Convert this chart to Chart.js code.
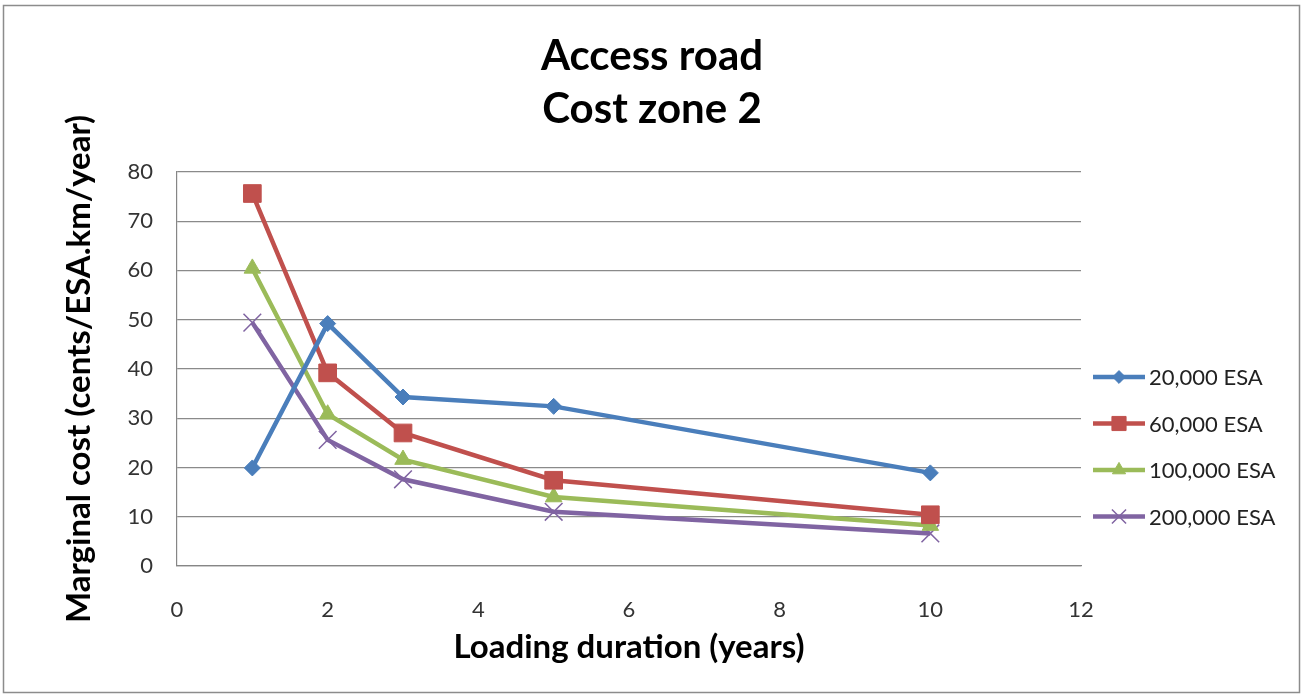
<!DOCTYPE html>
<html>
<head>
<meta charset="utf-8">
<script src="https://cdn.jsdelivr.net/npm/chart.js@4/dist/chart.umd.min.js"></script>
<style>
  html, body { margin: 0; padding: 0; background: #fff; }
  #wrap { position: relative; width: 1302px; height: 695px; }
</style>
</head>
<body>
<div id="wrap"><canvas id="c" width="1302" height="695"></canvas></div>
<script>
const titleLines = ['Access road', 'Cost zone 2'];
const xTitle = 'Loading duration (years)';
const yTitle = 'Marginal cost (cents/ESA.km/year)';
const durations = [1, 2, 3, 5, 10];
const seriesNames = ['20,000 ESA', '60,000 ESA', '100,000 ESA', '200,000 ESA'];
const esa20k  = [19.9, 49.2, 34.3, 32.4, 18.9];
const esa60k  = [75.6, 39.2, 27.0, 17.4, 10.4];
const esa100k = [60.4, 30.8, 21.6, 14.0, 8.2];
const esa200k = [49.4, 25.6, 17.6, 11.0, 6.6];
const seriesColors = ['#4A7EBB', '#C0504D', '#9BBB59', '#8064A2'];
const markerStyles = ['rectRot', 'rect', 'triangle', 'crossRot'];
const markerRadii = [8, 12.5, 9.5, 12.5];
const xMin = 0, xMax = 12, xStep = 2;
const yMin = 0, yMax = 80, yStep = 10;

const allSeries = [esa20k, esa60k, esa100k, esa200k];
const FONT = 'Lato, "Open Sans", sans-serif';

const datasets = allSeries.map((vals, i) => ({
  label: seriesNames[i],
  data: durations.map((d, j) => ({ x: d, y: vals[j] })),
  borderColor: seriesColors[i],
  backgroundColor: seriesColors[i],
  borderWidth: 4.5,
  pointStyle: markerStyles[i],
  pointRadius: markerRadii[i],
  pointHoverRadius: markerRadii[i],
  pointBorderWidth: i === 3 ? 1.5 : 1,
  pointBorderColor: seriesColors[i],
  pointBackgroundColor: seriesColors[i],
  tension: 0,
  yAxisID: 'y'
}));

const framePlugin = {
  id: 'frame',
  beforeDraw(chart) {
    const ctx = chart.ctx;
    ctx.save();
    ctx.fillStyle = '#fff';
    ctx.fillRect(0, 0, chart.width, chart.height);
    ctx.strokeStyle = '#8c8c8c';
    ctx.lineWidth = 1.5;
    ctx.strokeRect(3.5, 5.5, 1296, 687);
    ctx.restore();
  }
};

const legendPlugin = {
  id: 'sideLegend',
  afterDraw(chart) {
    const ctx = chart.ctx;
    const x0 = 1093, x1 = 1145, tx = 1149;
    const yStart = 377, gap = 46.5;
    ctx.save();
    chart.data.datasets.forEach((ds, i) => {
      const y = yStart + i * gap;
      ctx.strokeStyle = ds.borderColor;
      ctx.lineWidth = ds.borderWidth;
      ctx.beginPath();
      ctx.moveTo(x0, y);
      ctx.lineTo(x1, y);
      ctx.stroke();
      ctx.fillStyle = ds.pointBackgroundColor;
      ctx.strokeStyle = ds.pointBorderColor;
      ctx.lineWidth = ds.pointBorderWidth;
      Chart.helpers.drawPoint(ctx, { pointStyle: ds.pointStyle, radius: ds.pointRadius * 0.8, rotation: 0, borderWidth: ds.pointBorderWidth }, (x0 + x1) / 2, y);
      ctx.fillStyle = '#222';
      ctx.font = '22px ' + FONT;
      ctx.textAlign = 'left';
      ctx.textBaseline = 'middle';
      ctx.fillText(ds.label, tx, y + 1);
    });
    ctx.restore();
  }
};

new Chart(document.getElementById('c'), {
  type: 'line',
  data: { datasets },
  plugins: [framePlugin, legendPlugin],
  options: {
    responsive: false,
    animation: false,
    events: [],
    layout: { padding: { left: 60, right: 58, top: 30, bottom: 28 } },
    plugins: {
      legend: { display: false },
      tooltip: { enabled: false },
      title: {
        display: true,
        text: titleLines,
        color: '#000',
        font: { family: FONT, size: 42, weight: 'bold', lineHeight: 1.26 },
        padding: { top: 0, bottom: 36 }
      }
    },
    scales: {
      x: {
        type: 'linear',
        min: xMin, max: xMax,
        grid: { display: false },
        border: { display: true, color: '#868686', width: 1.2 },
        ticks: { stepSize: xStep, color: '#333', font: { family: FONT, size: 22 }, padding: 23 },
        title: { display: true, text: xTitle, color: '#000', font: { family: FONT, size: 33, weight: 'bold' }, padding: 0 },
        afterFit(s) { s.height = 101; }
      },
      y: {
        type: 'linear',
        position: 'left',
        min: yMin, max: yMax,
        grid: { color: '#8a8a8a', lineWidth: 1.2, drawTicks: false },
        border: { display: true, color: '#868686', width: 1.2 },
        ticks: { stepSize: yStep, color: '#333', font: { family: FONT, size: 22 }, padding: 24 },
        title: { display: true, text: yTitle, color: '#000', font: { family: FONT, size: 33, weight: 'bold' }, padding: 0 },
        afterFit(s) { s.width = 117; }
      },
      legendSpace: {
        type: 'linear',
        position: 'right',
        display: true,
        min: yMin, max: yMax,
        grid: { display: false, drawTicks: false },
        border: { display: false },
        ticks: { display: false },
        afterFit(s) { s.width = 163; }
      }
    }
  }
});
</script>
</body>
</html>
